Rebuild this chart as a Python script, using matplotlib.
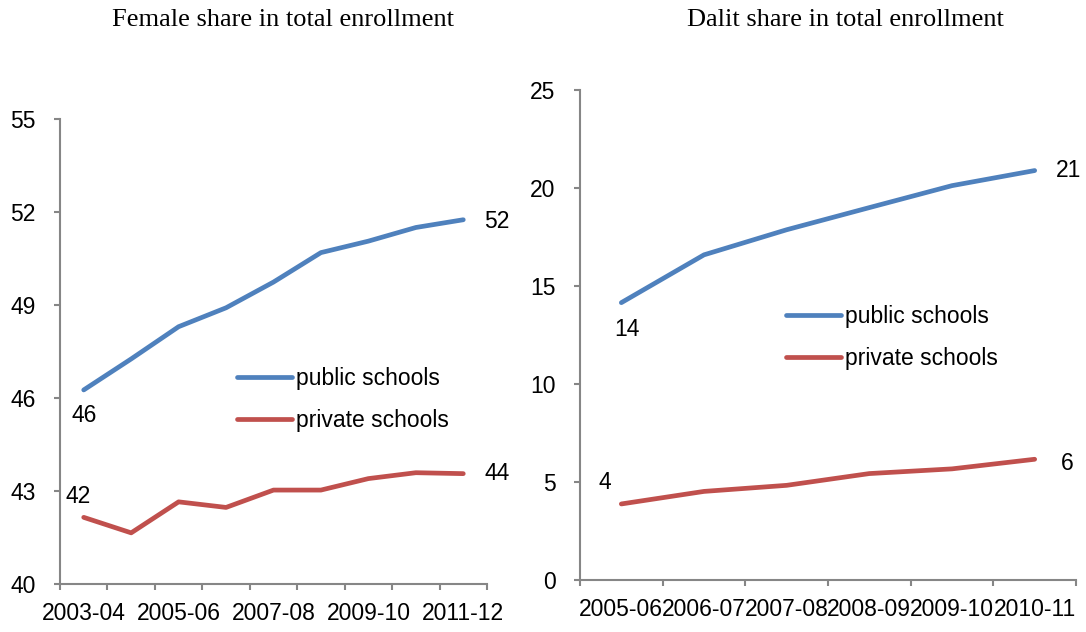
import numpy as np
import matplotlib
matplotlib.use("Agg")
import matplotlib.pyplot as plt
from matplotlib.ticker import FixedLocator, NullFormatter

# female share, public vs private
female_years = ["2003-04", "2004-05", "2005-06", "2006-07", "2007-08",
                "2008-09", "2009-10", "2010-11", "2011-12"]
female_public = [46.26, 47.26, 48.30, 48.91, 49.74, 50.69, 51.06, 51.50, 51.75]
female_private = [42.15, 41.65, 42.65, 42.47, 43.03, 43.03, 43.40, 43.59, 43.56]

# dalit share, public vs private
dalit_years = ["2005-06", "2006-07", "2007-08", "2008-09", "2009-10", "2010-11"]
dalit_public = [14.15, 16.59, 17.87, 19.0, 20.12, 20.89]
dalit_private = [3.88, 4.52, 4.83, 5.43, 5.67, 6.16]

BLUE = "#4F81BD"
RED = "#C0504D"
GREY = "#868686"
FS = 16.5

plt.rcParams["font.family"] = ["Liberation Sans", "DejaVu Sans"]

fig = plt.figure(figsize=(10.86, 6.32), dpi=100)
ax1 = fig.add_axes([60 / 1086, 1 - 584 / 632, 427 / 1086, 465 / 632])
ax2 = fig.add_axes([580 / 1086, 1 - 580 / 632, 496 / 1086, 490 / 632])


def style(ax, labels, label_every, ylim, yticks):
    n = len(labels)
    x = np.arange(n)
    ax.set_xlim(-0.5, n - 0.5)
    ax.set_ylim(*ylim)
    ax.set_yticks(yticks)
    ax.xaxis.set_major_locator(FixedLocator(np.arange(n + 1) - 0.5))
    ax.xaxis.set_major_formatter(NullFormatter())
    shown = x[::label_every]
    ax.xaxis.set_minor_locator(FixedLocator(shown))
    ax.set_xticklabels([labels[i] for i in shown], minor=True)
    ax.tick_params(axis="x", which="minor", length=0, pad=13, labelsize=FS)
    ax.tick_params(axis="x", which="major", length=4.5, color=GREY, width=1.5)
    ax.tick_params(axis="y", length=4.5, color=GREY, width=1.5, pad=13, labelsize=FS)
    for s in ["top", "right"]:
        ax.spines[s].set_visible(False)
    for s in ["left", "bottom"]:
        ax.spines[s].set_color(GREY)
        ax.spines[s].set_linewidth(1.5)
    return x


# left chart
x1 = style(ax1, female_years, 2, (40, 55), [40, 43, 46, 49, 52, 55])
ax1.plot(x1, female_public, color=BLUE, lw=3.4, label="public schools", solid_capstyle="round")
ax1.plot(x1, female_private, color=RED, lw=3.4, label="private schools", solid_capstyle="round")
ax1.annotate("46", (x1[0], female_public[0]), xytext=(0, -10), textcoords="offset points",
             ha="center", va="top", fontsize=FS)
ax1.annotate("42", (x1[0], female_private[0]), xytext=(-4, 7), textcoords="offset points",
             ha="center", va="bottom", fontsize=FS)
ax1.annotate("52", (x1[-1], female_public[-1]), xytext=(15, -1), textcoords="offset points",
             ha="left", va="center", fontsize=FS)
ax1.annotate("44", (x1[-1], female_private[-1]), xytext=(15, 0), textcoords="offset points",
             ha="left", va="center", fontsize=FS)
ax1.legend(loc="center left", bbox_to_anchor=(0.4145, 0.397), frameon=False, fontsize=FS,
           handlelength=2.4, handletextpad=0.17, labelspacing=0.8, borderaxespad=0,
           borderpad=0)

# right chart
x2 = style(ax2, dalit_years, 1, (0, 25), [0, 5, 10, 15, 20, 25])
ax2.plot(x2, dalit_public, color=BLUE, lw=3.4, label="public schools", solid_capstyle="round")
ax2.plot(x2, dalit_private, color=RED, lw=3.4, label="private schools", solid_capstyle="round")
ax2.annotate("14", (x2[0], dalit_public[0]), xytext=(4, -11), textcoords="offset points",
             ha="center", va="top", fontsize=FS)
ax2.annotate("4", (x2[0], dalit_private[0]), xytext=(-12, 7), textcoords="offset points",
             ha="center", va="bottom", fontsize=FS)
ax2.annotate("21", (x2[-1], dalit_public[-1]), xytext=(15, 0), textcoords="offset points",
             ha="left", va="center", fontsize=FS)
ax2.annotate("6", (x2[-1], dalit_private[-1]), xytext=(19, -3), textcoords="offset points",
             ha="left", va="center", fontsize=FS)
ax2.legend(loc="center left", bbox_to_anchor=(0.415, 0.495), frameon=False, fontsize=FS,
           handlelength=2.4, handletextpad=0.17, labelspacing=0.8, borderaxespad=0,
           borderpad=0)

# titles
fig.text(283 / 1086, 1 - 20 / 632, "Female share in total enrollment",
         family="Liberation Serif", fontsize=19, ha="center", va="center")
fig.text(845 / 1086, 1 - 20 / 632, "Dalit share in total enrollment",
         family="Liberation Serif", fontsize=19, ha="center", va="center")

fig.savefig("out.png", dpi=100)
